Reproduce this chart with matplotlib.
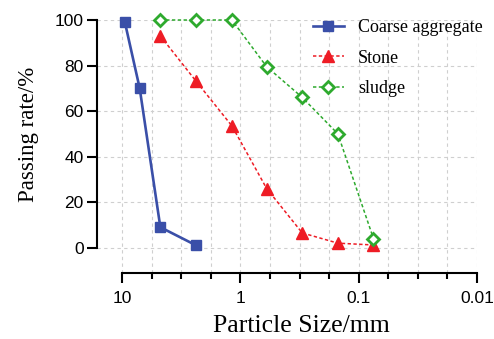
import matplotlib
matplotlib.use("Agg")
import matplotlib.pyplot as plt
from matplotlib.ticker import FixedLocator, NullFormatter, FixedFormatter
import numpy as np

coarse_x = [9.5, 7.1, 4.75, 2.36]
coarse_y = [99.3, 70, 9, 1]
stone_x = [4.75, 2.36, 1.18, 0.6, 0.3, 0.15, 0.075]
stone_y = [93, 73, 53.5, 26, 6.5, 2, 1.2]
sludge_x = [4.75, 2.36, 1.18, 0.6, 0.3, 0.15, 0.075]
sludge_y = [100, 100, 100, 79.5, 66, 50, 4]
x_ticks = [10, 1, 0.1, 0.01]
x_tick_labels = ["10", "1", "0.1", "0.01"]
y_ticks = [0, 20, 40, 60, 80, 100]

fig = plt.figure(figsize=(4.94, 3.39), dpi=100)
ax = fig.add_axes([97/494, 1-273/339, 380/494, 253/339])
ax.set_xscale("log")
ax.set_xlim(16.3, 0.01)
ax.set_ylim(-11.1, 100)

blue = "#3a4fa8"
red = "#ee1c25"
green = "#2eaa2e"

ax.plot(coarse_x, coarse_y, color=blue, lw=1.9, marker="s", ms=7.5,
        mfc=blue, mec=blue, label="Coarse aggregate", clip_on=False, zorder=5)
ax.plot(stone_x, stone_y, color=red, lw=1.1, ls=(0, (2.2, 1.6)), marker="^", ms=8,
        mfc=red, mec=red, label="Stone", clip_on=False, zorder=4)
ax.plot(sludge_x, sludge_y, color=green, lw=1.1, ls=(0, (2.2, 1.6)), marker="D", ms=6.5,
        mfc="white", mec=green, mew=2.0, label="sludge", clip_on=False, zorder=4)

# ticks
ax.xaxis.set_major_locator(FixedLocator(x_ticks))
ax.xaxis.set_major_formatter(FixedFormatter(x_tick_labels))
minor = [10 ** (k / 4) for k in range(-8, 5) if k % 4 != 0]
ax.xaxis.set_minor_locator(FixedLocator(minor))
ax.xaxis.set_minor_formatter(NullFormatter())
ax.set_yticks(y_ticks)

ax.grid(which="both", axis="x", color="#cfcfcf", ls=(0, (3, 3)), lw=0.8)
ax.grid(which="major", axis="y", color="#cfcfcf", ls=(0, (3, 3)), lw=0.8)
ax.set_axisbelow(True)

for s in ["top", "right"]:
    ax.spines[s].set_visible(False)
ax.spines["left"].set_bounds(0, 100)
ax.spines["bottom"].set_bounds(0.01, 10)
ax.spines["left"].set_linewidth(1.5)
ax.spines["bottom"].set_linewidth(1.5)

ax.tick_params(axis="both", which="major", length=7.5, width=1.5, direction="out",
               labelsize=12.5, pad=2)
ax.tick_params(axis="x", which="minor", length=4.5, width=1.5, direction="out")
ax.tick_params(axis="x", which="major", pad=5.5)
for lab in ax.get_xticklabels() + ax.get_yticklabels():
    lab.set_fontfamily("Liberation Sans")

ax.set_xlabel("Particle Size/mm", fontfamily="Liberation Serif", fontsize=18.5)
ax.set_ylabel("Passing rate/%", fontfamily="Liberation Serif", fontsize=16.5)
ax.xaxis.set_label_coords((301 - 97) / 380, (273 - 315) / 253)
ax.yaxis.set_label_coords((39 - 97) / 380, (273 - 134) / 253)

leg = ax.legend(loc="upper left", bbox_to_anchor=((313 - 97) / 380, (273 - 19) / 253),
                frameon=False, borderpad=0, borderaxespad=0, handlelength=1.7,
                handletextpad=0.8, labelspacing=0.75,
                prop={"family": "Liberation Serif", "size": 13})

fig.savefig("out.png", dpi=100)
